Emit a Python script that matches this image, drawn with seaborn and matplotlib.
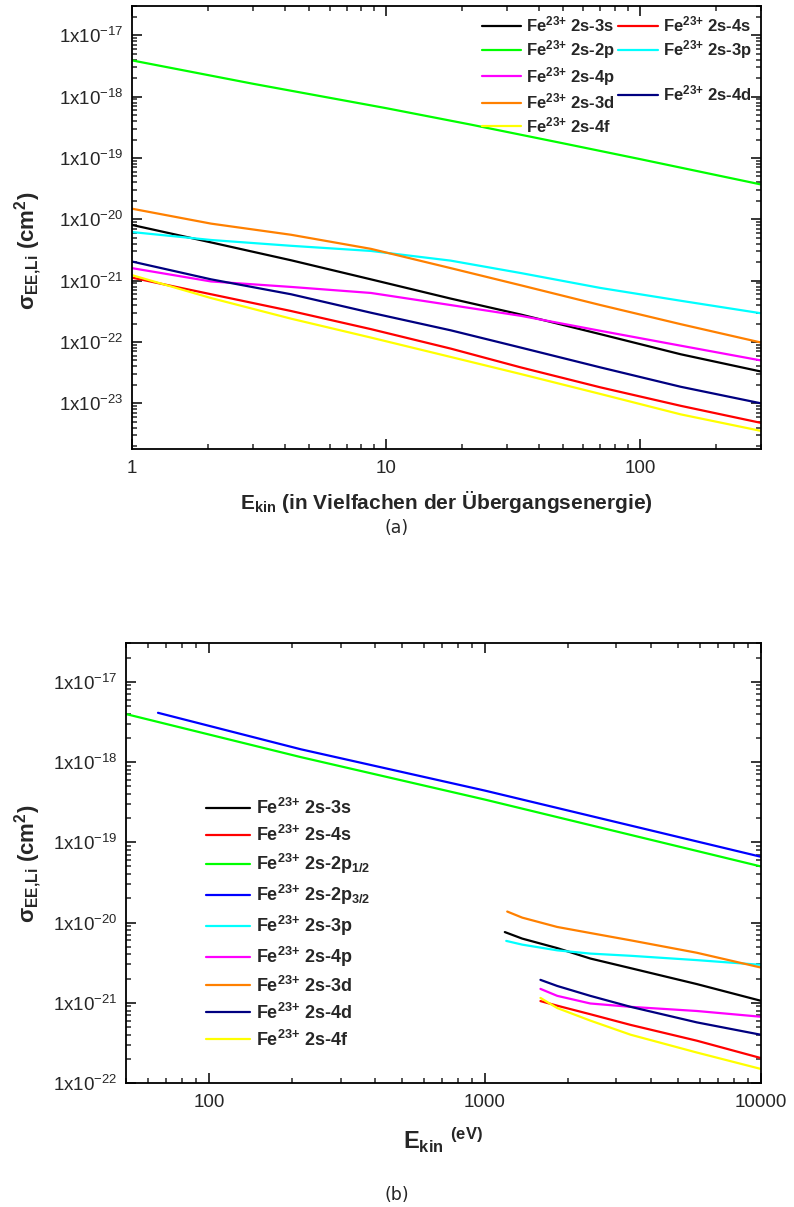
import numpy as np
import pandas as pd
import matplotlib
matplotlib.use("Agg")
import matplotlib.pyplot as plt
from matplotlib.ticker import LogLocator, FuncFormatter, NullFormatter, FixedLocator
from matplotlib.lines import Line2D
import seaborn as sns

# ---- Panel (a): E_kin in Vielfachen der Uebergangsenergie ----
xa = [1, 2.05, 4.23, 8.73, 18, 34, 70, 145, 300]
a_3s = [8.1e-21, 4.2e-21, 2.15e-21, 1.05e-21, 5.1e-22, 2.8e-22, 1.34e-22, 6.3e-23, 3.3e-23]
a_4s = [1.12e-21, 6.0e-22, 3.2e-22, 1.62e-22, 7.8e-23, 3.85e-23, 1.82e-23, 9.1e-24, 4.8e-24]
a_3p = [6.2e-21, 4.6e-21, 3.7e-21, 3.05e-21, 2.12e-21, 1.33e-21, 7.6e-22, 4.7e-22, 2.94e-22]
a_4p = [1.6e-21, 9.7e-22, 7.9e-22, 6.3e-22, 4.0e-22, 2.67e-22, 1.52e-22, 8.7e-23, 5.0e-23]
a_3d = [1.49e-20, 8.5e-21, 5.6e-21, 3.3e-21, 1.6e-21, 8.4e-22, 4.0e-22, 1.95e-22, 9.8e-23]
a_4d = [2.05e-21, 1.05e-21, 6.0e-22, 3.0e-22, 1.55e-22, 8.1e-23, 3.85e-23, 1.86e-23, 1.0e-23]
a_4f = [1.23e-21, 5.2e-22, 2.4e-22, 1.18e-22, 5.7e-23, 3.0e-23, 1.42e-23, 6.6e-24, 3.55e-24]
xa_2p = [1, 3, 10, 21.6, 50, 100, 300]
a_2p = [3.9e-18, 1.62e-18, 6.5e-19, 3.5e-19, 1.73e-19, 9.6e-20, 3.7e-20]

# ---- Panel (b): E_kin in eV ----
xb_3s = [1181, 1366, 1829, 2410, 3375, 5865, 10000]
b_3s = [7.6e-21, 6.3e-21, 4.8e-21, 3.56e-21, 2.7e-21, 1.71e-21, 1.06e-21]
xb_3p = [1195, 1366, 1829, 2410, 3375, 5865, 10000]
b_3p = [5.9e-21, 5.3e-21, 4.5e-21, 4.1e-21, 3.85e-21, 3.4e-21, 2.97e-21]
xb_3d = [1205, 1366, 1829, 2410, 3375, 5865, 10000]
b_3d = [1.37e-20, 1.15e-20, 8.8e-21, 7.4e-21, 6.0e-21, 4.2e-21, 2.75e-21]
xb_n4 = [1590, 1829, 2410, 3375, 5865, 10000]
b_4s = [1.05e-21, 9.2e-22, 7.2e-22, 5.3e-22, 3.37e-22, 2.05e-22]
b_4p = [1.49e-21, 1.22e-21, 9.8e-22, 8.9e-22, 7.9e-22, 6.7e-22]
b_4d = [1.93e-21, 1.62e-21, 1.22e-21, 8.9e-22, 5.7e-22, 4.0e-22]
b_4f = [1.15e-21, 8.6e-22, 6.0e-22, 4.0e-22, 2.4e-22, 1.5e-22]
xb_2p12 = [48.6, 215, 1000, 10000]
b_2p12 = [4.05e-18, 1.15e-18, 3.4e-19, 5.0e-20]
xb_2p32 = [65.3, 215, 1000, 10000]
b_2p32 = [4.1e-18, 1.44e-18, 4.4e-19, 6.6e-20]

farben = {"3s": "#000000", "4s": "#FF0000", "2p": "#00FF00", "2p32": "#0000FF",
          "3p": "#00FFFF", "4p": "#FF00FF", "3d": "#FF8000", "4d": "#000080",
          "4f": "#FFFF00"}

sns.set_style("ticks")
plt.rcParams["font.family"] = ["Liberation Sans", "DejaVu Sans"]
plt.rcParams["mathtext.fontset"] = "custom"
plt.rcParams["mathtext.rm"] = "Liberation Sans"
plt.rcParams["mathtext.bf"] = "Liberation Sans:bold"
plt.rcParams["mathtext.it"] = "Liberation Sans:italic"
plt.rcParams["mathtext.sf"] = "Liberation Sans"


def lbl(t, sub=None):
    s = r"Fe$^{\mathbf{23{+}}}$ 2s-" + t
    if sub:
        s += r"$_{\mathbf{" + sub + "}}$"
    return s


def achsen_stil(ax, xticks, yexp):
    ax.set_xscale("log")
    ax.set_yscale("log")
    ax.yaxis.set_major_locator(FixedLocator([10.0 ** e for e in yexp]))
    ax.yaxis.set_minor_locator(LogLocator(base=10, subs=np.arange(2, 10), numticks=100))
    ax.yaxis.set_minor_formatter(NullFormatter())
    ax.yaxis.set_major_formatter(FuncFormatter(
        lambda v, p: r"1x10$^{\mathrm{%d}}$" % int(round(np.log10(v)))))
    ax.xaxis.set_major_locator(FixedLocator(xticks))
    ax.xaxis.set_minor_locator(LogLocator(base=10, subs=np.arange(2, 10), numticks=100))
    ax.xaxis.set_minor_formatter(NullFormatter())
    ax.xaxis.set_major_formatter(FuncFormatter(lambda v, p: "%g" % v))
    ax.tick_params(which="both", direction="in", top=True, right=True, width=1.1)
    ax.tick_params(which="major", length=7, labelsize=13.5, color="black")
    ax.tick_params(axis="x", which="major", pad=8)
    ax.tick_params(axis="y", which="major", pad=6)
    ax.tick_params(which="minor", length=3.5)
    for sp in ax.spines.values():
        sp.set_linewidth(1.3)
        sp.set_color("black")
    ax.set_xlabel("")
    ax.set_ylabel("")


fig = plt.figure(figsize=(7.94, 12.07), dpi=100)
ax1 = fig.add_axes([0.1662, 0.628, 0.7922, 0.367])
ax2 = fig.add_axes([0.1587, 0.1027, 0.7994, 0.3648])

lw = 1.6
serien_a = [("3s", xa, a_3s), ("4s", xa, a_4s), ("2p", xa_2p, a_2p), ("3p", xa, a_3p),
            ("4p", xa, a_4p), ("3d", xa, a_3d), ("4d", xa, a_4d), ("4f", xa, a_4f)]
h1 = {}
for key, xs, ys in serien_a:
    sns.lineplot(x=xs, y=ys, color=farben[key], lw=lw, ax=ax1, legend=False)
    h1[key] = Line2D([], [], color=farben[key], lw=lw)

achsen_stil(ax1, [1, 10, 100], range(-23, -16))
ax1.set_xlim(1, 300)
ax1.set_ylim(1.8e-24, 3e-17)

leer = Line2D([], [], color="none")
handles = [h1["3s"], h1["2p"], h1["4p"], h1["3d"], h1["4f"],
           h1["4s"], h1["3p"], leer, h1["4d"], leer]
labels = [lbl("3s"), lbl("2p"), lbl("4p"), lbl("3d"), lbl("4f"),
          lbl("4s"), lbl("3p"), " ", lbl("4d"), " "]
ax1.legend(handles, labels, ncol=2, loc="upper left", bbox_to_anchor=(0.543, 0.999),
           frameon=False, prop={"weight": "bold", "size": 12}, borderpad=0,
           handlelength=2.35, handletextpad=0.3, columnspacing=0.2, labelspacing=0.22)

serien_b = [("3s", xb_3s, b_3s, lbl("3s")), ("4s", xb_n4, b_4s, lbl("4s")),
            ("2p", xb_2p12, b_2p12, lbl("2p", "1/2")), ("2p32", xb_2p32, b_2p32, lbl("2p", "3/2")),
            ("3p", xb_3p, b_3p, lbl("3p")), ("4p", xb_n4, b_4p, lbl("4p")),
            ("3d", xb_3d, b_3d, lbl("3d")), ("4d", xb_n4, b_4d, lbl("4d")),
            ("4f", xb_n4, b_4f, lbl("4f"))]
h2, l2 = [], []
for key, xs, ys, name in serien_b:
    sns.lineplot(x=xs, y=ys, color=farben[key], lw=lw, ax=ax2, legend=False)
    h2.append(Line2D([], [], color=farben[key], lw=lw))
    l2.append(name)

achsen_stil(ax2, [100, 1000, 10000], range(-22, -16))
ax2.set_xlim(50, 10000)
ax2.set_ylim(1e-22, 3.06e-17)
ax2.legend(h2, l2, loc="upper left", bbox_to_anchor=(0.1124, 0.668), frameon=False,
           prop={"weight": "bold", "size": 13}, borderpad=0, handlelength=2.42,
           handletextpad=0.31, labelspacing=0.38)

# Achsentitel
ylab = r"σ$_{\mathbf{EE{,}Li}}$ (cm$^{\mathbf{2}}$)"
fig.text(0.036, 0.792, ylab, rotation=90, ha="center", va="center",
         fontsize=16, fontweight="bold")
fig.text(0.036, 0.284, ylab, rotation=90, ha="center", va="center",
         fontsize=16, fontweight="bold")
fig.text(0.562, 0.584, r"E$_{\mathbf{kin}}$ (in Vielfachen der Übergangsenergie)",
         ha="center", va="center", fontsize=15, fontweight="bold")
fig.text(0.558, 0.0555, r"E$_{\mathbf{kin}}$ $^{\mathbf{(eV)}}$",
         ha="center", va="center", fontsize=17, fontweight="bold")

fig.text(0.5, 0.5626, "(a)", ha="center", va="center", fontsize=12.5, family="DejaVu Sans")
fig.text(0.5, 0.0100, "(b)", ha="center", va="center", fontsize=12.5, family="DejaVu Sans")

fig.savefig("out.png", dpi=100)
